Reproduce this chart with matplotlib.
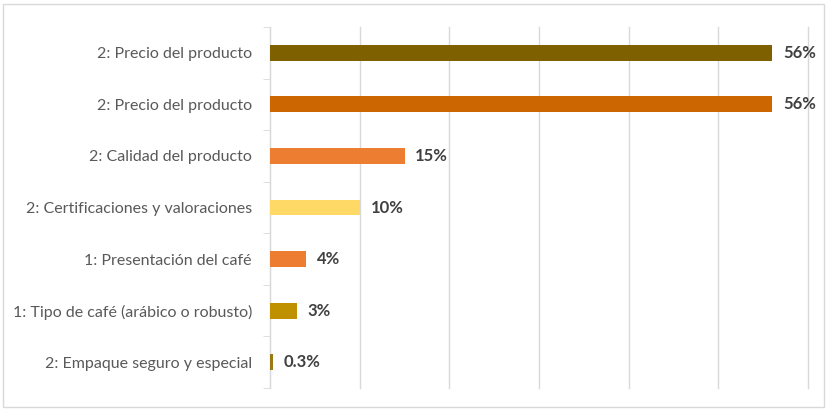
import numpy as np
import matplotlib.pyplot as plt
from matplotlib.patches import Rectangle

# categorias de arriba hacia abajo
categorias = ['2: Precio del producto', '2: Precio del producto',
              '2: Calidad del producto', '2: Certificaciones y valoraciones',
              '1: Presentación del café', '1: Tipo de café (arábico o robusto)',
              '2: Empaque seguro y especial']
valores = [56, 56, 15, 10, 4, 3, 0.3]
etiquetas = ['56%', '56%', '15%', '10%', '4%', '3%', '0.3%']
colores = ['#7F6000', '#CC6600', '#ED7D31', '#FFD966', '#ED7D31', '#BF9000', '#9C7A12']

plt.rcParams['font.family'] = ['Lato', 'DejaVu Sans']

fig = plt.figure(figsize=(8.27, 4.09), dpi=100)
ax = fig.add_axes([270/827, 1-388/409, (808-270)/827, (388-27)/409])

y = np.arange(len(categorias))
ax.barh(y, valores, height=0.31, color=colores, zorder=3)
for yi, v, t in zip(y, valores, etiquetas):
    ax.text(v + 1.2, yi, t, va='center', ha='left', fontsize=12,
            fontweight='bold', color='#404040')

ax.set_xlim(0, 60)
ax.set_ylim(len(categorias) - 0.5, -0.5)
ax.set_xticks(np.arange(0, 61, 10))
ax.set_xticklabels([])
ax.tick_params(axis='x', length=0)
ax.grid(axis='x', color='#D9D9D9', linewidth=1, zorder=0)
for gl in ax.get_xgridlines():
    gl.set_clip_on(False)

ax.set_yticks(y)
ax.set_yticklabels(categorias, fontsize=11.5, color='#595959')
ax.set_yticks(np.arange(-0.5, len(categorias)), minor=True)
ax.tick_params(axis='y', which='major', length=0, pad=13)
ax.tick_params(axis='y', which='minor', length=5, color='#D9D9D9', direction='out')

for s in ['top', 'right', 'bottom']:
    ax.spines[s].set_visible(False)
ax.spines['left'].set_color('#D9D9D9')

# marco del grafico
fig.patches.append(Rectangle((3/827, 2/409), 821/827, 403/409, transform=fig.transFigure,
                             fill=False, edgecolor='#D9D9D9', linewidth=1))

fig.savefig('out.png', dpi=100)
